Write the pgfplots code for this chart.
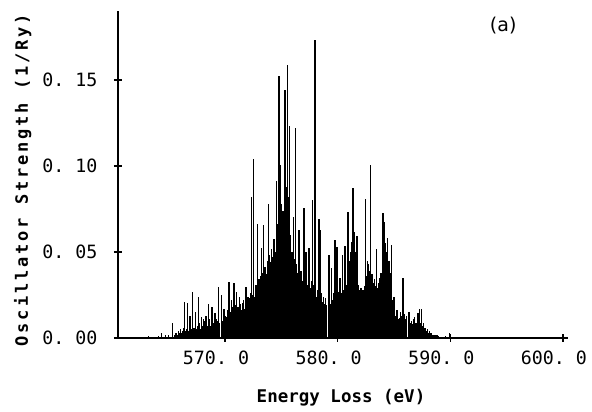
\documentclass[border=0pt]{standalone}
\usepackage{pgfplots}
\pgfplotsset{compat=1.18}
\usepackage{fontspec}
\setmainfont{DejaVu Sans}
\newfontfamily\monofont{DejaVu Sans Mono}
\newfontfamily\ylabfont[LetterSpace=17]{DejaVu Sans Mono}
\newcommand\ticksize{\fontsize{18.3}{20}\selectfont}
\pgfplotstableread{
E f
565.35 0.0085
566.39 0.0210
566.69 0.0205
566.90 0.0130
567.14 0.0270
567.40 0.0150
567.63 0.0236
567.90 0.0120
568.08 0.0110
568.30 0.0130
568.52 0.0200
568.85 0.0180
569.11 0.0147
569.41 0.0296
569.71 0.0250
569.90 0.0170
570.35 0.0326
570.55 0.0220
570.62 0.0180
570.80 0.0318
571.04 0.0270
571.30 0.0240
571.55 0.0205
571.86 0.0298
572.08 0.0240
572.37 0.0820
572.51 0.1038
572.86 0.0662
573.05 0.0340
573.22 0.0525
573.41 0.0657
573.86 0.0780
574.08 0.0420
574.36 0.0575
574.58 0.0910
574.81 0.1520
574.94 0.1006
575.32 0.1440
575.56 0.1587
575.70 0.1229
576.06 0.0705
576.27 0.1223
576.56 0.0628
577.00 0.0754
577.18 0.0500
577.45 0.0525
577.76 0.0800
577.98 0.1729
578.36 0.0690
578.48 0.0630
579.22 0.0484
579.46 0.0407
579.75 0.0572
579.96 0.0530
580.20 0.0350
580.43 0.0480
580.64 0.0535
580.93 0.0734
581.08 0.0340
581.37 0.0870
581.52 0.0618
581.73 0.0590
582.06 0.0290
582.26 0.0280
582.47 0.0810
582.65 0.0445
582.94 0.1005
583.15 0.0290
583.45 0.0515
583.65 0.0280
584.01 0.0725
584.18 0.0676
584.40 0.0580
584.57 0.0450
584.78 0.0540
585.01 0.0240
585.27 0.0163
585.51 0.0115
585.81 0.0350
586.05 0.0105
586.34 0.0150
586.55 0.0075
586.80 0.0122
587.00 0.0085
587.14 0.0147
587.29 0.0167
587.44 0.0170
587.64 0.0085
587.78 0.0057
588.77 0.0020
589.95 0.0030
}\peaks
\pgfplotstableread{
E f
562.00 0.0005
563.20 0.0012
564.10 0.0010
564.39 0.0030
564.68 0.0020
564.97 0.0020
565.55 0.002
565.65 0.003
565.75 0.002
565.85 0.004
565.95 0.003
566.05 0.005
566.15 0.003
566.25 0.004
566.35 0.006
566.45 0.004
566.55 0.005
566.65 0.007
566.75 0.004
566.85 0.006
566.95 0.008
567.05 0.005
567.15 0.007
567.25 0.006
567.35 0.009
567.45 0.005
567.55 0.007
567.65 0.006
567.75 0.009
567.85 0.005
567.95 0.008
568.05 0.007
568.15 0.010
568.25 0.006
568.35 0.009
568.45 0.007
568.55 0.008
568.65 0.011
568.75 0.007
568.85 0.010
568.95 0.009
569.05 0.012
569.15 0.008
569.25 0.011
569.35 0.010
569.45 0.013
569.55 0.009
569.65 0.012
569.75 0.010
569.85 0.014
569.95 0.011
570.05 0.013
570.15 0.012
570.25 0.016
570.35 0.011
570.45 0.015
570.55 0.013
570.65 0.017
570.75 0.012
570.85 0.016
570.95 0.019
571.05 0.014
571.15 0.018
571.25 0.015
571.35 0.020
571.45 0.016
571.55 0.018
571.65 0.022
571.75 0.017
571.85 0.021
571.95 0.024
572.05 0.019
572.15 0.023
572.25 0.026
572.35 0.021
572.45 0.025
572.55 0.028
572.65 0.024
572.75 0.031
572.85 0.027
572.95 0.034
573.05 0.029
573.15 0.036
573.25 0.032
573.35 0.038
573.45 0.035
573.55 0.041
573.65 0.037
573.75 0.045
573.85 0.040
573.95 0.048
574.05 0.044
574.15 0.052
574.25 0.047
574.35 0.055
574.45 0.050
574.55 0.060
574.65 0.066
574.75 0.062
574.85 0.072
574.95 0.068
575.05 0.078
575.15 0.074
575.25 0.085
575.35 0.080
575.45 0.088
575.55 0.088
575.65 0.082
575.75 0.076
575.85 0.060
575.95 0.050
576.05 0.044
576.15 0.046
576.25 0.040
576.35 0.043
576.45 0.038
576.55 0.041
576.65 0.036
576.75 0.039
576.85 0.033
576.95 0.036
577.05 0.030
577.15 0.033
577.25 0.028
577.35 0.031
577.45 0.027
577.55 0.029
577.65 0.033
577.75 0.027
577.85 0.031
577.95 0.026
578.05 0.030
578.15 0.024
578.25 0.028
578.35 0.025
578.45 0.022
578.55 0.026
578.65 0.021
578.75 0.024
578.85 0.020
578.95 0.023
579.05 0.019
579.15 0.022
579.25 0.025
579.35 0.020
579.45 0.024
579.55 0.022
579.65 0.026
579.75 0.021
579.85 0.025
579.95 0.023
580.05 0.027
580.15 0.024
580.25 0.029
580.35 0.026
580.45 0.030
580.55 0.028
580.65 0.033
580.75 0.031
580.85 0.036
580.95 0.040
581.05 0.045
581.15 0.050
581.25 0.056
581.35 0.060
581.45 0.055
581.55 0.050
581.65 0.042
581.75 0.036
581.85 0.031
581.95 0.028
582.05 0.025
582.15 0.029
582.25 0.026
582.35 0.030
582.45 0.033
582.55 0.036
582.65 0.040
582.75 0.043
582.85 0.039
582.95 0.035
583.05 0.037
583.15 0.032
583.25 0.034
583.35 0.030
583.45 0.033
583.55 0.029
583.65 0.032
583.75 0.035
583.85 0.038
583.95 0.042
584.05 0.047
584.15 0.052
584.25 0.055
584.35 0.050
584.45 0.048
584.55 0.044
584.65 0.038
584.75 0.030
584.85 0.022
584.95 0.016
585.05 0.014
585.15 0.013
585.25 0.012
585.35 0.013
585.45 0.011
585.55 0.015
585.65 0.013
585.75 0.016
585.85 0.012
585.95 0.014
586.05 0.011
586.15 0.013
586.25 0.010
586.35 0.012
586.45 0.009
586.55 0.010
586.65 0.008
586.75 0.011
586.85 0.007
586.95 0.009
587.05 0.008
587.15 0.010
587.25 0.007
587.35 0.009
587.45 0.006
587.55 0.007
587.65 0.005
587.75 0.006
587.85 0.004
587.95 0.005
588.05 0.003
588.15 0.004
588.25 0.003
588.35 0.003
588.45 0.002
588.55 0.002
588.65 0.002
588.75 0.001
588.85 0.002
588.95 0.001
589.55 0.001
590.05 0.002
591.20 0.0007
592.50 0.0006
594.00 0.0006
595.50 0.0006
597.00 0.0006
598.50 0.0006
}\grass
\begin{document}
\begin{tikzpicture}
\useasboundingbox (-118pt,-74pt) rectangle (474pt,338pt);
\begin{axis}[
  scale only axis, width=450pt, height=327pt,
  xmin=560.5, xmax=600.45, ymin=0, ymax=0.19,
  axis x line=bottom, axis y line=left,
  axis line style={line width=1.4pt, -},
  xtick={570,580,590,600},
  xticklabels={570.\ 0,580.\ 0,590.\ 0,600.\ 0},
  ytick={0,0.05,0.10,0.15},
  yticklabels={0.\ 00,0.\ 05,0.\ 10,0.\ 15},
  tick align=center, major tick length=8pt,
  tick style={line width=1.4pt, black},
  ticklabel style={font=\ticksize\monofont},
  xticklabel style={anchor=north, xshift=-9pt, yshift=-5pt},
  yticklabel style={anchor=east, xshift=-13pt},
  xlabel={Energy Loss (eV)},
  ylabel={Oscillator Strength (1/Ry)},
  xlabel style={at={(axis description cs:0.4956,0)}, anchor=base, yshift=-65pt,
    font=\fontsize{17.5}{20}\selectfont\monofont\bfseries},
  ylabel style={at={(axis description cs:-0.2,0.483)}, anchor=base,
    font=\fontsize{17}{20}\selectfont\ylabfont\bfseries},
  clip=false,
]
\addplot[ycomb, black, line width=1.1pt, mark=none] table[x=E, y=f] {\grass};
\addplot[ycomb, black, line width=1.4pt, mark=none] table[x=E, y=f] {\peaks};
\node[font=\fontsize{19}{20}\selectfont] at (axis cs:594.7,0.1814) {(a)};
\end{axis}
\end{tikzpicture}
\end{document}
